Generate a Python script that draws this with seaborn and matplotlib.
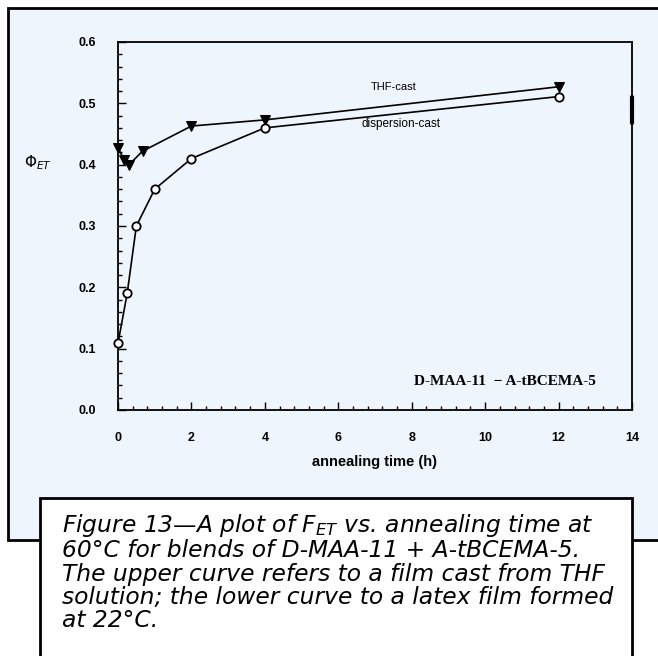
import matplotlib
matplotlib.use("Agg")
import matplotlib.pyplot as plt
import seaborn as sns
import pandas as pd
from matplotlib.patches import Rectangle
from matplotlib.ticker import MultipleLocator

# Data
thf_time = [0, 0.17, 0.3, 0.67, 2, 4, 12]
thf_phi = [0.427, 0.408, 0.400, 0.422, 0.463, 0.473, 0.527]
disp_time = [0, 0.25, 0.5, 1, 2, 4, 12]
disp_phi = [0.109, 0.190, 0.300, 0.360, 0.410, 0.460, 0.511]
x_ticks = [0, 2, 4, 6, 8, 10, 12, 14]
y_ticks = [0.0, 0.1, 0.2, 0.3, 0.4, 0.5, 0.6]

df = pd.concat([
    pd.DataFrame({"t": thf_time, "phi": thf_phi, "series": "THF-cast"}),
    pd.DataFrame({"t": disp_time, "phi": disp_phi, "series": "dispersion-cast"}),
])

sns.set_theme(style="white")
plt.rcParams['font.family'] = ['Liberation Sans', 'DejaVu Sans']
plt.rcParams['text.color'] = 'black'
plt.rcParams['axes.labelcolor'] = 'black'
plt.rcParams['xtick.color'] = 'black'
plt.rcParams['ytick.color'] = 'black'

fig = plt.figure(figsize=(6.58, 6.56), dpi=100)
fig.patch.set_facecolor("white")

# Light blue panel with border
panel = Rectangle((8/658, 1-540/656), 1.2, 532/656, transform=fig.transFigure,
                  facecolor="#eef5fc", edgecolor="black", linewidth=2, zorder=-5)
fig.patches.append(panel)

ax = fig.add_axes([118/658, 1-410/656, (632-118)/658, (410-42)/656])
ax.set_zorder(1)
ax.set_facecolor("#eef5fc")

sns.lineplot(data=df[df.series == "THF-cast"], x="t", y="phi", ax=ax,
             color="black", linewidth=1.2, marker="v", markersize=7,
             markerfacecolor="black", markeredgecolor="black", sort=False,
             estimator=None, legend=False)
sns.lineplot(data=df[df.series == "dispersion-cast"], x="t", y="phi", ax=ax,
             color="black", linewidth=1.2, marker="o", markersize=6,
             markerfacecolor="white", markeredgecolor="black", markeredgewidth=1.3,
             sort=False, estimator=None, legend=False)
for ln in ax.lines:
    ln.set_clip_on(False)
    ln.set_zorder(5)

ax.set_xlim(0, 14)
ax.set_ylim(0, 0.6)
ax.set_xticks(x_ticks)
ax.set_yticks(y_ticks)
ax.set_xticklabels([str(v) for v in x_ticks], fontsize=9, fontweight="bold")
ax.set_yticklabels([f"{v:.1f}" for v in y_ticks], fontsize=9, fontweight="bold")
ax.xaxis.set_minor_locator(MultipleLocator(0.4))
ax.yaxis.set_minor_locator(MultipleLocator(0.02))
ax.tick_params(which="major", direction="in", length=6, width=1, color="black",
               bottom=True, left=True, top=False, right=False, pad=16)
ax.tick_params(which="minor", direction="in", length=3, width=1, color="black",
               bottom=True, left=True, top=False, right=False)
for s in ax.spines.values():
    s.set_color("black")
    s.set_linewidth(1.3)
ax.axvline(14, ymin=0.78, ymax=0.85, color="black", linewidth=3, clip_on=False)

ax.set_xlabel("annealing time (h)", fontsize=10.5, fontweight="bold", labelpad=8)
ax.set_ylabel("")
fig.text(38/658, 1-163/656, r"$\Phi_{ET}$", fontsize=11, ha="center", va="center")

ax.text(7.5, 0.527, "THF-cast", fontsize=8, ha="center", va="center")
ax.text(7.7, 0.467, "dispersion-cast", fontsize=8.5, ha="center", va="center")
ax.text(10.55, 0.047, "D-MAA-11  − A-tBCEMA-5", fontsize=11, fontweight="bold",
        ha="center", va="center", family=["Liberation Serif", "DejaVu Serif"])

# Caption box
cap = Rectangle((40/658, -0.05), (632-40)/658, 0.05 + (656-498)/656,
                transform=fig.transFigure, facecolor="white", edgecolor="black",
                linewidth=2, zorder=2)
fig.patches.append(cap)
caption = ("Figure 13—A plot of F$_{ET}$ vs. annealing time at\n"
           "60°C for blends of D-MAA-11 + A-tBCEMA-5.\n"
           "The upper curve refers to a film cast from THF\n"
           "solution; the lower curve to a latex film formed\n"
           "at 22°C.")
fig.text(62/658, 1-512/656, caption, fontsize=16.8, style="italic", va="top",
         ha="left", linespacing=1.02, family=["DejaVu Sans"], zorder=3)

fig.savefig("out.png", dpi=100)
